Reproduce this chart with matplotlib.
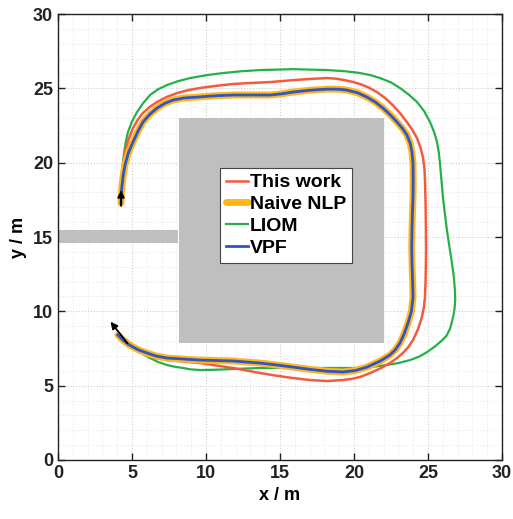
import matplotlib.pyplot as plt
import numpy as np

plt.rcParams["font.family"] = ["Liberation Sans", "DejaVu Sans"]
plt.rcParams["font.weight"] = "bold"

# trajectories (m)
vpf_x = [4.26, 4.30, 4.40, 4.53, 4.75, 5.07, 5.40, 5.74, 6.20, 6.69, 7.20, 7.77, 8.50,
         9.39, 10.60, 11.82, 13.00, 14.32, 15.10, 15.88, 17.00, 18.18, 19.00, 19.53,
         20.25, 20.88, 21.45, 21.96, 22.45, 22.91, 23.28, 23.58, 23.80, 23.92, 23.99,
         24.00, 23.99, 23.95, 23.92, 23.90, 23.92, 23.96, 23.99, 23.88, 23.65, 23.40,
         23.11, 22.80, 22.43, 21.76, 20.88, 20.10, 19.26, 18.18, 17.00, 15.88, 14.70,
         13.65, 11.82, 9.59, 7.36, 6.60, 6.01, 5.50, 5.07, 4.70, 4.39, 4.05]
vpf_y = [17.28, 18.20, 19.10, 19.84, 20.65, 21.39, 22.10, 22.73, 23.25, 23.67, 23.98,
         24.21, 24.35, 24.41, 24.50, 24.55, 24.55, 24.55, 24.63, 24.75, 24.87, 24.95,
         24.94, 24.88, 24.70, 24.41, 24.07, 23.67, 23.22, 22.73, 22.30, 21.86, 21.30,
         20.71, 19.97, 18.80, 17.69, 16.60, 15.47, 14.30, 13.25, 12.10, 10.96, 10.00,
         9.21, 8.50, 7.87, 7.42, 7.06, 6.65, 6.25, 6.02, 5.92, 5.97, 6.10, 6.25, 6.40,
         6.52, 6.66, 6.72, 6.86, 7.00, 7.20, 7.38, 7.60, 7.82, 8.07, 8.41]
naive_x = list(vpf_x)
naive_y = list(vpf_y)

ours_x = [4.26, 4.29, 4.32, 4.40, 4.53, 4.76, 5.07, 5.38, 5.74, 6.20, 6.69, 7.35, 8.04,
          8.80, 9.59, 10.70, 11.82, 13.00, 14.32, 15.88, 17.00, 18.18, 18.80, 19.26,
          19.85, 20.41, 21.00, 21.55, 22.10, 22.63, 23.12, 23.58, 23.95, 24.26, 24.50,
          24.66, 24.76, 24.80, 24.84, 24.86, 24.87, 24.86, 24.84, 24.80, 24.72, 24.59,
          24.33, 23.99, 23.68, 23.31, 22.90, 22.43, 21.76, 21.10, 20.41, 19.80, 19.26,
          18.18, 17.00, 15.88, 14.70, 13.65, 11.82, 9.59, 7.36, 6.60, 6.01, 5.50, 5.07,
          4.70, 4.39, 4.05]
ours_y = [17.28, 18.00, 18.83, 19.80, 20.71, 21.55, 22.33, 22.87, 23.34, 23.75, 24.08,
          24.42, 24.68, 24.88, 25.02, 25.17, 25.29, 25.36, 25.42, 25.55, 25.63, 25.69,
          25.65, 25.57, 25.45, 25.29, 25.05, 24.75, 24.35, 23.87, 23.32, 22.73, 22.20,
          21.65, 21.00, 20.38, 19.60, 18.83, 17.20, 15.47, 14.30, 13.25, 12.10, 10.96,
          10.25, 9.62, 8.80, 8.07, 7.60, 7.20, 6.85, 6.52, 6.15, 5.85, 5.58, 5.45, 5.38,
          5.31, 5.38, 5.51, 5.68, 5.85, 6.19, 6.52, 6.72, 6.87, 7.06, 7.28, 7.53, 7.78,
          8.07, 8.41]

liom_x = [4.26, 4.28, 4.32, 4.36, 4.45, 4.56, 4.73, 5.00, 5.34, 5.75, 6.22, 6.75, 7.36,
          8.10, 8.92, 10.00, 11.15, 12.40, 13.65, 15.88, 18.18, 19.40, 20.41, 21.15,
          21.76, 22.50, 23.11, 23.70, 24.26, 24.75, 25.14, 25.42, 25.61, 25.73, 25.81,
          25.91, 26.01, 26.14, 26.28, 26.45, 26.62, 26.75, 26.82, 26.84, 26.80, 26.70,
          26.50, 26.25, 25.90, 25.45, 24.93, 24.40, 23.78, 23.00, 22.23, 21.30, 20.41,
          18.18, 15.88, 13.65, 11.82, 10.60, 9.59, 8.92, 8.45, 7.90, 7.36, 6.75, 6.22,
          5.75, 5.34, 4.97, 4.66, 4.35, 4.05]
liom_y = [17.28, 18.00, 18.83, 19.70, 20.51, 21.30, 22.06, 22.77, 23.40, 24.00, 24.55,
          24.93, 25.22, 25.48, 25.69, 25.88, 26.03, 26.15, 26.23, 26.29, 26.23, 26.15,
          26.03, 25.88, 25.69, 25.40, 25.02, 24.58, 24.08, 23.45, 22.73, 22.05, 21.39,
          20.70, 19.97, 18.83, 17.69, 16.60, 15.47, 14.35, 13.25, 12.30, 11.43, 10.80,
          10.20, 9.62, 8.85, 8.35, 8.00, 7.62, 7.25, 6.95, 6.72, 6.52, 6.39, 6.27, 6.19,
          6.19, 6.19, 6.19, 6.12, 6.07, 6.05, 6.10, 6.19, 6.27, 6.39, 6.60, 6.86, 7.12,
          7.40, 7.72, 8.07, 8.25, 8.41]

# obstacles: (x0, y0, width, height)
obstacles = [(8.2, 7.85, 13.8, 15.15), (0.0, 14.6, 8.1, 0.9)]

# start / end direction arrows: (tail, head)
start_arrow = ((4.26, 17.1), (4.26, 18.15))
end_arrow = ((4.7, 7.85), (3.55, 9.3))

fig = plt.figure(figsize=(5.13, 5.19), dpi=100)
ax = fig.add_axes([0.113, 0.1137, 0.8655, 0.8593])

for x0, y0, w, h in obstacles:
    ax.add_patch(plt.Rectangle((x0, y0), w, h, facecolor="#bfbfbf", edgecolor="none", zorder=1))

l_liom, = ax.plot(liom_x, liom_y, color="#25b04a", lw=1.6, label="LIOM", zorder=3)
l_ours, = ax.plot(ours_x, ours_y, color="#f55a3c", lw=1.8, label="This work", zorder=4)
l_naive, = ax.plot(naive_x, naive_y, color="#ffb81c", lw=5, label="Naive NLP", zorder=5,
                   solid_capstyle="round", solid_joinstyle="round")
l_vpf, = ax.plot(vpf_x, vpf_y, color="#2f55c8", lw=2, label="VPF", zorder=6,
                 solid_joinstyle="round")
for ln in (l_liom, l_ours):
    ln.set_solid_joinstyle("round")

for tail, head in (start_arrow, end_arrow):
    ax.annotate("", xy=head, xytext=tail, zorder=7,
                arrowprops=dict(arrowstyle="-|>", color="black", lw=1.3,
                                mutation_scale=10, shrinkA=0, shrinkB=0))

ax.set_xlim(0, 30)
ax.set_ylim(0, 30)
ax.set_xticks(np.arange(0, 31, 5))
ax.set_yticks(np.arange(0, 31, 5))
ax.set_xticks(np.arange(0, 31, 1), minor=True)
ax.set_yticks(np.arange(0, 31, 1), minor=True)
ax.tick_params(which="major", direction="in", length=5, width=1, top=True, right=True,
               labelsize=13, colors="#222222")
ax.tick_params(which="minor", length=0)
ax.grid(True, which="major", ls=":", lw=0.8, color="#cccccc")
ax.grid(True, which="minor", ls=":", lw=0.6, color="#e4e4e4")
ax.set_axisbelow(True)
for s in ax.spines.values():
    s.set_linewidth(1.0)
    s.set_color("#222222")

ax.set_xlabel("x / m", fontsize=13, fontweight="bold", labelpad=4)
ax.set_ylabel("y / m", fontsize=13, fontweight="bold", labelpad=4)

leg = ax.legend(handles=[l_ours, l_naive, l_liom, l_vpf], loc="upper left",
                bbox_to_anchor=(0.366, 0.655), fontsize=14, fancybox=False,
                framealpha=1, edgecolor="#444444", handlelength=1.1,
                handletextpad=0.1, borderpad=0.3, labelspacing=0.22, borderaxespad=0)
leg.get_frame().set_linewidth(0.8)
leg.set_zorder(10)

fig.savefig("out.png", dpi=100)
